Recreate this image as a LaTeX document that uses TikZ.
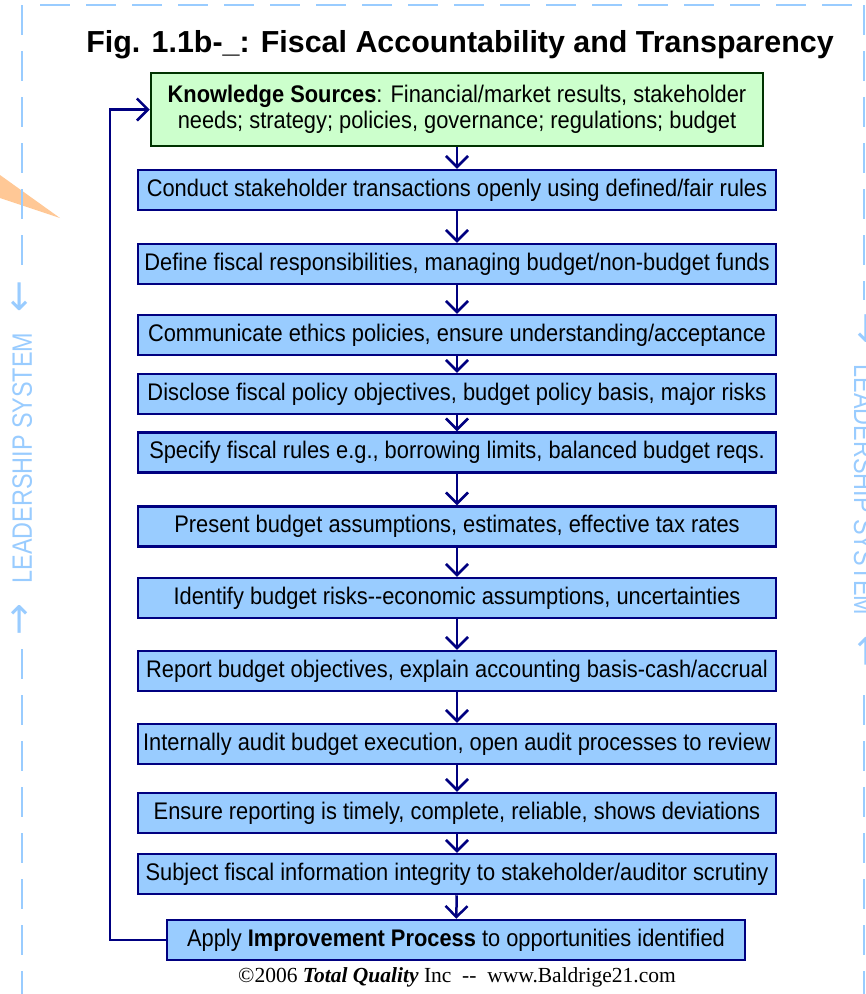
\documentclass[tikz,border=0pt]{standalone}
\usepackage{fontspec}
\setmainfont{Liberation Serif}
\newfontfamily\boxfont[FakeStretch=0.91]{Liberation Sans}
\newfontfamily\titlefont{Liberation Sans}
\newfontfamily\sidefont[FakeStretch=0.835]{Liberation Sans}
\newfontfamily\arrowfont{DejaVu Sans}
\usetikzlibrary{arrows.meta}

\definecolor{navyline}{HTML}{000080}
\definecolor{skyfill}{HTML}{99CCFF}
\definecolor{leaffill}{HTML}{CCFFCC}
\definecolor{leafline}{HTML}{003300}
\definecolor{frameblue}{HTML}{99CCFF}
\definecolor{peach}{HTML}{FFC896}

\newcommand{\sidearrow}[1]{{\arrowfont\fontsize{38}{30}\selectfont #1}}

\begin{document}
\begin{tikzpicture}[x=1pt, y=-1pt,
    stepbox/.style={draw=navyline, fill=skyfill, line width=2.5pt, minimum width=638, minimum height=40, inner sep=0pt, font=\boxfont\fontsize{24}{26}\selectfont},
    ksbox/.style={draw=leafline, fill=leaffill, line width=2.5pt, minimum width=612, minimum height=73, inner sep=0pt, align=center, font=\boxfont\fontsize{24}{26}\selectfont},
    flow/.style={draw=navyline, line width=2.5pt, -{Straight Barb[length=11pt,width=22pt]}},
    frame/.style={draw=frameblue, line width=1.8pt, dash pattern=on 30pt off 16pt},
    sidetext/.style={text=frameblue, fill=white, inner xsep=12pt, inner ysep=0pt, font=\sidefont\fontsize{28}{30}\selectfont}]
    \useasboundingbox (0,0) rectangle (866,994);

    % Pointer and frame
    \fill[peach] (0,175) -- (60,218) -- (0,198) -- cycle;
    \draw[frame] (22,5) -- (22,1000);
    \draw[frame] (40,5) -- (864,5);
    \draw[frame] (864,5) -- (864,1000);
    \node[sidetext, rotate=90] (lsleft) at (22,458) {\sidearrow{→}\hspace{14pt} LEADERSHIP SYSTEM \hspace{14pt}\sidearrow{←}};
    \node[sidetext, rotate=-90] (lsright) at (864,490) {\sidearrow{→}\hspace{14pt} LEADERSHIP SYSTEM \hspace{14pt}\sidearrow{←}};

    % Title
    \node[anchor=base, font=\titlefont\bfseries\fontsize{30.4}{32}\selectfont] (title) at (460,52) {Fig. 1.1b-\_: Fiscal Accountability and Transparency};

    % Knowledge sources
    \node[ksbox] (ks) at (457,109.5) {\textbf{Knowledge Sources}: Financial/market results, stakeholder\\needs; strategy; policies, governance; regulations; budget};

    % Steps
    \node[stepbox] (s1) at (457,190) {Conduct stakeholder transactions openly using defined/fair rules};
    \node[stepbox] (s2) at (457,264) {Define fiscal responsibilities, managing budget/non-budget funds};
    \node[stepbox] (s3) at (457,335) {Communicate ethics policies, ensure understanding/acceptance};
    \node[stepbox] (s4) at (457,394) {Disclose fiscal policy objectives, budget policy basis, major risks};
    \node[stepbox] (s5) at (457,452.5) {Specify fiscal rules e.g., borrowing limits, balanced budget reqs.};
    \node[stepbox] (s6) at (457,526.5) {Present budget assumptions, estimates, effective tax rates};
    \node[stepbox] (s7) at (457,598) {Identify budget risks-{}-economic assumptions, uncertainties};
    \node[stepbox] (s8) at (457,671) {Report budget objectives, explain accounting basis-cash/accrual};
    \node[stepbox] (s9) at (457,744) {Internally audit budget execution, open audit processes to review};
    \node[stepbox] (s10) at (457,813) {Ensure reporting is timely, complete, reliable, shows deviations};
    \node[stepbox] (s11) at (457,874) {Subject fiscal information integrity to stakeholder/auditor scrutiny};

    % Improvement
    \node[stepbox, minimum width=578] (imp) at (456,940) {Apply \textbf{Improvement Process} to opportunities identified};

    % Footer
    \node[font=\fontsize{21.5}{23}\selectfont] (foot) at (457,977) {\textcopyright2006 \textbf{\textit{Total Quality}} Inc~~-{}-~~www.Baldrige21.com};

    % Arrows
    \draw[flow] (ks) -- (s1);
    \draw[flow] (s1) -- (s2);
    \draw[flow] (s2) -- (s3);
    \draw[flow] (s3) -- (s4);
    \draw[flow] (s4) -- (s5);
    \draw[flow] (s5) -- (s6);
    \draw[flow] (s6) -- (s7);
    \draw[flow] (s7) -- (s8);
    \draw[flow] (s8) -- (s9);
    \draw[flow] (s9) -- (s10);
    \draw[flow] (s10) -- (s11);
    \draw[flow] (s11) -- (imp);
    \coordinate (back) at (110,940);
    \draw[flow] (imp.west) -- (back) |- (ks.west);
\end{tikzpicture}
\end{document}
